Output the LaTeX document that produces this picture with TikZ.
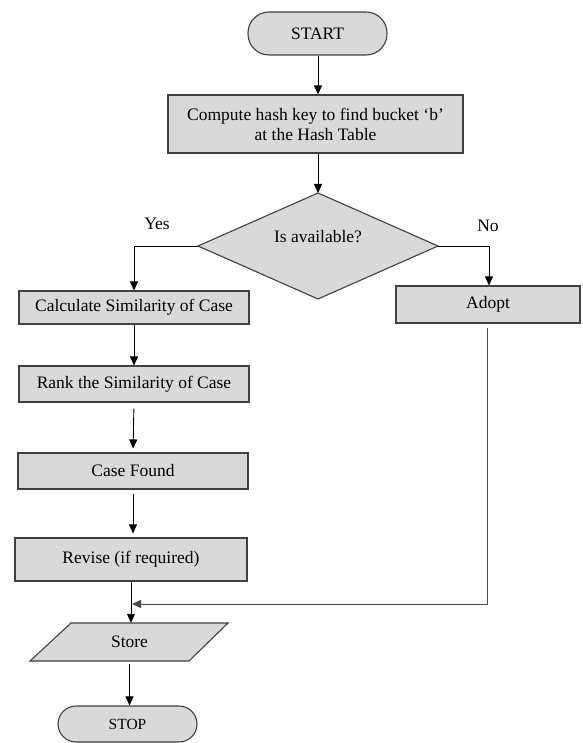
\documentclass[tikz,border=0pt]{standalone}
\usepackage{fontspec}
\setmainfont{Liberation Serif}
\usetikzlibrary{arrows.meta,calc}
\begin{document}
\begin{tikzpicture}[x=1pt,y=-1pt,
  font=\fontsize{17.5}{20}\selectfont,
  boxfill/.style={fill=black!15, draw=black!75, line width=1.1pt},
  procbox/.style={boxfill, rectangle, inner sep=0pt, align=center},
  termbox/.style={boxfill, rectangle, rounded corners=18pt, inner sep=0pt},
  conn/.style={draw=black, line width=0.9pt},
  arr/.style={conn, -{Triangle[length=9pt,width=8pt]}},
  lbl/.style={inner sep=0pt}
]
\useasboundingbox (0,0) rectangle (582,743);

% nodes
\node[termbox, minimum width=139pt, minimum height=43pt, rounded corners=21pt] (start) at (317.5,33.5) {START};
\node[procbox, minimum width=295pt, minimum height=58pt] (comp) at (315.5,124) {Compute hash key to find bucket ‘b’\\at the Hash Table};
\path[boxfill] (198,246) coordinate (decW) -- (318,193) coordinate (decN) -- (438,246) coordinate (decE) -- (318,299) coordinate (decS) -- cycle;
\node[lbl] (dectext) at (318,237) {Is available?};
\node[procbox, minimum width=230pt, minimum height=33pt] (calc) at (134,307.5) {Calculate Similarity of Case};
\node[procbox, minimum width=184pt, minimum height=37pt] (adopt) at (488,304.5) {Adopt};
\node[procbox, minimum width=230pt, minimum height=36pt] (rank) at (134,384) {Rank the Similarity of Case};
\node[procbox, minimum width=230pt, minimum height=36pt] (case) at (133,471) {Case Found};
\node[procbox, minimum width=232pt, minimum height=43pt] (revise) at (131,559.5) {Revise (if required)};
\path[boxfill] (71,623) -- (228,623) -- (189,661) -- (30,661) -- cycle;
\node[lbl, minimum width=100pt, minimum height=38pt] (store) at (129.5,642) {Store};
\node[termbox, minimum width=139pt, minimum height=36pt, font=\fontsize{15.5}{18}\selectfont] (stop) at (127.5,724) {STOP};

% labels
\node[lbl] (yes) at (157,224) {Yes};
\node[lbl] (no) at (488,226) {No};

% connectors
\draw[arr] (start.south -| decN) -- (decN |- comp.north);
\draw[arr] (decN |- comp.south) -- (decN);
\draw[arr] (decW) -| (calc.north);
\draw[arr] (decE) -| ($(adopt.north)+(1,0)$);
\draw[arr] (calc.south) -- (rank.north);
\draw[arr, shorten <=6pt, shorten >=4pt] (rank.south) -- (case.north);
\draw[arr, shorten <=4pt, shorten >=4pt] (case.south) -- (revise.north -| case.south);
\draw[arr] (revise.south) -- (revise.south |- store.north);
\coordinate (merge) at (132,604);
\draw[arr, draw=black!70, shorten <=4pt] ($(adopt.south)+(-1,0)$) |- (merge);
\draw[arr, shorten <=3pt] (store.south) -- (store.south |- stop.north);
\end{tikzpicture}
\end{document}
